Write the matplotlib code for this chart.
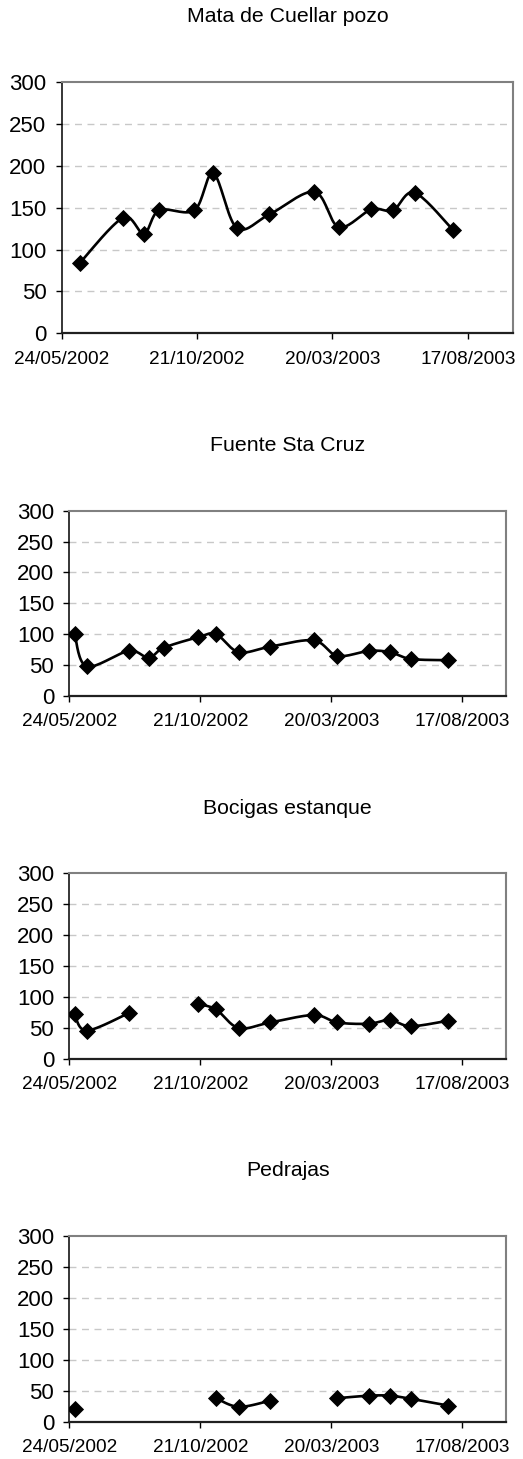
import numpy as np
import matplotlib
matplotlib.use("Agg")
import matplotlib.pyplot as plt
import matplotlib.dates as mdates
from datetime import datetime, timedelta

plt.rcParams['font.family'] = ['Liberation Sans', 'DejaVu Sans']

# ---- data ----
dates = ["30/05/2002", "13/06/2002", "31/07/2002", "23/08/2002", "09/09/2002",
         "18/10/2002", "08/11/2002", "04/12/2002", "09/01/2003", "28/02/2003",
         "27/03/2003", "02/05/2003", "26/05/2003", "19/06/2003", "01/08/2003"]
nan = np.nan
mata = [nan, 84, 138, 119, 147, 147, 191, 126, 142, 169, 127, 148, 147, 168, 123]
fuente = [101, 48, 73, 62, 78, 95, 100, 71, 80, 90, 65, 73, 71, 60, 58]
bocigas = [72, 46, 74, nan, nan, 89, 80, 50, 59, 71, 59, 57, 63, 53, 62]
pedrajas = [20, nan, nan, nan, nan, nan, 38, 24, 34, nan, 38, 42, 42, 37, 26]

titles = ["Mata de Cuellar pozo", "Fuente Sta Cruz", "Bocigas estanque", "Pedrajas"]
series = [mata, fuente, bocigas, pedrajas]
tick_labels = ["24/05/2002", "21/10/2002", "20/03/2003", "17/08/2003"]
y_ticks = [0, 50, 100, 150, 200, 250, 300]

x_dates = [datetime.strptime(d, "%d/%m/%Y") for d in dates]
xnum = mdates.date2num(x_dates)
start = datetime(2002, 5, 24)
xmin = mdates.date2num(start)
xmax = mdates.date2num(start + timedelta(days=500))
tick_pos = [mdates.date2num(datetime.strptime(t, "%d/%m/%Y")) for t in tick_labels]


def smooth(xs, ys, n=20):
    """Excel-like smoothed line (Catmull-Rom Bezier) through points."""
    xs = np.asarray(xs, float); ys = np.asarray(ys, float)
    m = len(xs)
    if m < 2:
        return xs, ys
    P = np.column_stack([xs, ys])
    out = [P[0]]
    t = np.linspace(0, 1, n)[1:]
    for i in range(m - 1):
        p0 = P[i - 1] if i > 0 else P[i]
        p1 = P[i]
        p2 = P[i + 1]
        p3 = P[i + 2] if i + 2 < m else P[i + 1]
        c1 = p1 + (p2 - p0) / 6.0
        c2 = p2 - (p3 - p1) / 6.0
        for tt in t:
            pt = ((1 - tt) ** 3) * p1 + 3 * ((1 - tt) ** 2) * tt * c1 + 3 * (1 - tt) * tt ** 2 * c2 + tt ** 3 * p2
            out.append(pt)
    out = np.array(out)
    return out[:, 0], out[:, 1]


W, H = 523, 1459
fig = plt.figure(figsize=(W / 100, H / 100), dpi=100)

# axes boxes in pixels: left, right, top, bottom; title y
boxes = [
    (61.7, 513.0, 82.3, 333.3, 16),
    (69.3, 506.0, 510.7, 696.0, 445),
    (69.3, 506.0, 873.3, 1059.0, 808),
    (69.3, 506.0, 1236.0, 1421.7, 1170),
]

for (l, r, t, b, ty), title, vals in zip(boxes, titles, series):
    ax = fig.add_axes([l / W, 1 - b / H, (r - l) / W, (b - t) / H])
    ax.set_xlim(xmin, xmax)
    ax.set_ylim(0, 300)
    for yv in y_ticks[1:-1]:
        ax.axhline(yv, color='#c8c8c8', lw=1.0, dashes=(5, 4), zorder=1)
    v = np.asarray(vals, float)
    # split into contiguous segments
    seg_x, seg_y = [], []
    for xi, yi in zip(xnum, v):
        if np.isnan(yi):
            if seg_x:
                sx, sy = smooth(seg_x, seg_y)
                ax.plot(sx, sy, color='black', lw=1.9, zorder=2, solid_capstyle='round')
            seg_x, seg_y = [], []
        else:
            seg_x.append(xi); seg_y.append(yi)
    if seg_x:
        sx, sy = smooth(seg_x, seg_y)
        ax.plot(sx, sy, color='black', lw=1.9, zorder=2, solid_capstyle='round')
    ax.plot(xnum, v, linestyle='none', marker='D', markersize=8.3,
            color='black', markeredgewidth=0.6, zorder=3)

    ax.set_yticks(y_ticks)
    ax.set_yticklabels([str(y) for y in y_ticks])
    ax.set_xticks(tick_pos)
    ax.set_xticklabels(tick_labels)
    ax.tick_params(axis='y', labelsize=16, length=4, width=1, pad=7, direction='out')
    ax.tick_params(axis='x', labelsize=13.7, length=4.5, width=1, pad=8, direction='out')
    for s in ['top', 'right']:
        ax.spines[s].set_color('#808080')
        ax.spines[s].set_linewidth(1.5)
    ax.spines['left'].set_color('black')
    ax.spines['left'].set_linewidth(1.1)
    ax.spines['bottom'].set_color('#202020')
    ax.spines['bottom'].set_linewidth(1.6)
    fig.text((l + r) / 2 / W, 1 - ty / H, title, ha='center', va='center', fontsize=15.3)

fig.savefig("out.png", dpi=100)
